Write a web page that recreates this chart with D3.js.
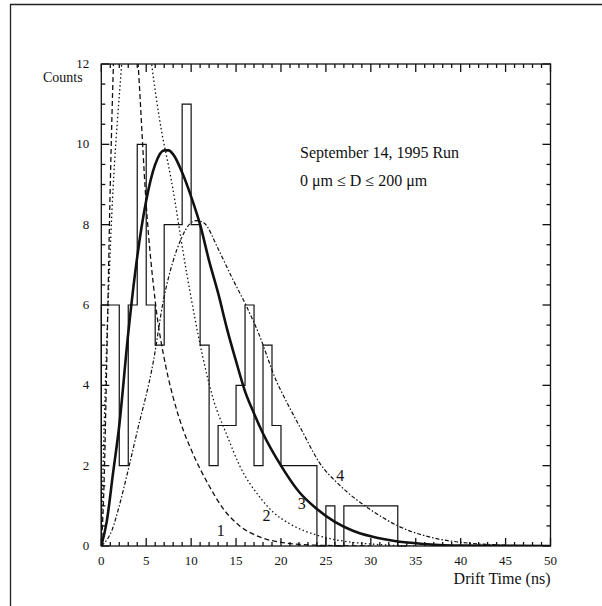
<!DOCTYPE html>
<html lang="en">
<head>
<meta charset="UTF-8">
<title>Drift Time</title>
<script src="https://cdn.jsdelivr.net/npm/d3@7.9.0/dist/d3.min.js"></script>
<style>
    body { margin: 0; background: #fff; }
    svg { display: block; }
    text { font-family: 'Liberation Serif', 'DejaVu Serif', serif; fill: #111; }
</style>
</head>
<body>
<svg id="chart" width="602" height="606"></svg>
<script>
// --- data ---
const binEdges = d3.range(0, 35);            // 1 ns bins
const counts = [6, 6, 2, 6, 10, 6, 5, 8, 8, 11, 8, 5, 2, 3, 3, 4, 6, 2, 5, 3, 2, 2, 2, 2, 0, 1, 0, 1, 1, 1, 1, 1, 1, 0];

// fitted curves, [time (ns), counts]
const curve1 = [[0,0],[0.3,1.5],[0.6,4.5],[1.0,9],[1.5,13],[2.2,15.5],[2.8,15.5],[3.5,14],[4.1,12],[5,8.5],[6,6.1],[7.2,4.45],[8,3.7],[9.1,2.9],[10,2.4],[12,1.5],[13.5,0.95],[15.4,0.5],[17.7,0.22],[20,0.09],[24,0.02],[30,0]];
const curve2 = [[0,0],[0.25,2.4],[1.0,7.4],[2.27,12],[3,14],[3.9,14.5],[4.8,13.5],[5.6,12],[6.5,10.6],[7.8,9.1],[9.5,6.8],[11.3,4.7],[12.5,3.63],[14,2.75],[15.4,2.0],[17.7,1.2],[19.1,0.85],[21,0.55],[24,0.27],[27,0.12],[30,0.05],[35,0]];
const curve3 = [[0,0],[0.6,0.6],[1.3,1.8],[2,3.0],[3,5.3],[4,7.2],[5,8.6],[6,9.5],[7,9.85],[7.5,9.85],[8,9.75],[9,9.3],[10,8.7],[11,8.0],[12,7.1],[13,6.3],[14,5.4],[15,4.6],[16,3.85],[17,3.3],[18,2.8],[20,2.0],[22,1.35],[24,0.92],[26,0.6],[28,0.38],[30,0.24],[33,0.11],[36,0.05],[40,0.01],[50,0]];
const curve4 = [[0,0],[1.2,0.4],[2,1.0],[3,1.9],[3.94,2.8],[5.8,4.6],[6.9,6.1],[8,7.1],[8.8,7.6],[9.9,8.03],[10.6,8.1],[11.4,8.05],[13,7.4],[14.5,6.7],[16.2,5.95],[17.5,5.3],[19.5,4.1],[20.6,3.6],[22.5,2.8],[24.2,2.1],[26.6,1.5],[30,0.9],[33.3,0.47],[37,0.2],[41,0.07],[45,0.02],[50,0]];

const curveLabels = [
    {text: "1", t: 13.3, c: 0.25},
    {text: "2", t: 18.4, c: 0.62},
    {text: "3", t: 22.3, c: 0.92},
    {text: "4", t: 26.6, c: 1.62}
];

const xTicks = d3.range(0, 51, 5);
const yTicks = d3.range(0, 13, 2);

// --- layout ---
const svg = d3.select("#chart");
const x = d3.scaleLinear().domain([0, 50]).range([101.3, 550.5]);
const y = d3.scaleLinear().domain([0, 12]).range([546, 64]);

// outer frame of the scanned page
svg.append("path")
    .attr("d", "M10.5,606 L10.5,4.5 L602,4.5")
    .attr("fill", "none").attr("stroke", "#222").attr("stroke-width", 1.3);

svg.append("defs").append("clipPath").attr("id", "plot")
    .append("rect").attr("x", x(0)).attr("y", y(12))
    .attr("width", x(50) - x(0)).attr("height", y(0) - y(12));

const g = svg.append("g");

// histogram as a step outline
const steps = [[0, 0]];
counts.forEach((c, i) => { steps.push([binEdges[i], c]); steps.push([binEdges[i + 1], c]); });
steps.push([binEdges[counts.length], 0]);
g.append("path")
    .attr("d", d3.line().x(d => x(d[0])).y(d => y(d[1]))(steps))
    .attr("fill", "none").attr("stroke", "#111").attr("stroke-width", 1.2);

// curves
const line = d3.line().x(d => x(d[0])).y(d => y(d[1])).curve(d3.curveMonotoneX);
const curveG = g.append("g").attr("clip-path", "url(#plot)");
const curveDefs = [
    {data: curve1, dash: "5,3", w: 1.3},
    {data: curve2, dash: "1.5,2.5", w: 1.3},
    {data: curve4, dash: "4,2,1.5,2", w: 1.2},
    {data: curve3, dash: null, w: 2.6}
];
curveDefs.forEach(cd => {
    curveG.append("path")
        .attr("d", line(cd.data))
        .attr("fill", "none")
        .attr("stroke", "#111")
        .attr("stroke-width", cd.w)
        .attr("stroke-dasharray", cd.dash);
});

g.selectAll(".clabel").data(curveLabels).enter().append("text")
    .attr("x", d => x(d.t)).attr("y", d => y(d.c))
    .attr("font-size", 16).attr("text-anchor", "middle")
    .text(d => d.text);

// axes: inward ticks on all four sides
const axisG = svg.append("g").attr("stroke", "#111").attr("stroke-width", 1.3);
axisG.append("rect")
    .attr("x", x(0)).attr("y", y(12))
    .attr("width", x(50) - x(0)).attr("height", y(0) - y(12))
    .attr("fill", "none");

d3.range(0, 51, 1).forEach(v => {
    const len = v % 5 === 0 ? 8 : 4;
    axisG.append("line").attr("x1", x(v)).attr("x2", x(v)).attr("y1", y(0)).attr("y2", y(0) - len);
    axisG.append("line").attr("x1", x(v)).attr("x2", x(v)).attr("y1", y(12)).attr("y2", y(12) + len);
});
d3.range(0, 12.01, 0.5).forEach(v => {
    const len = v % 2 === 0 ? 8 : 4;
    axisG.append("line").attr("x1", x(0)).attr("x2", x(0) + len).attr("y1", y(v)).attr("y2", y(v));
    axisG.append("line").attr("x1", x(50)).attr("x2", x(50) - len).attr("y1", y(v)).attr("y2", y(v));
});

svg.selectAll(".xt").data(xTicks).enter().append("text")
    .attr("x", d => x(d)).attr("y", y(0) + 19)
    .attr("font-size", 13).attr("text-anchor", "middle")
    .text(d => d);

svg.selectAll(".yt").data(yTicks).enter().append("text")
    .attr("x", x(0) - 12).attr("y", d => y(d) + 4)
    .attr("font-size", 13).attr("text-anchor", "end")
    .text(d => d);

svg.append("text").attr("x", 43).attr("y", 82).attr("font-size", 14).text("Counts");
svg.append("text").attr("x", x(50)).attr("y", 584).attr("font-size", 16)
    .attr("text-anchor", "end").text("Drift Time (ns)");

svg.append("text").attr("x", 300).attr("y", 158).attr("font-size", 16).text("September 14, 1995 Run");
svg.append("text").attr("x", 300).attr("y", 186).attr("font-size", 16).text("0 μm ≤ D ≤ 200 μm");
</script>
</body>
</html>
